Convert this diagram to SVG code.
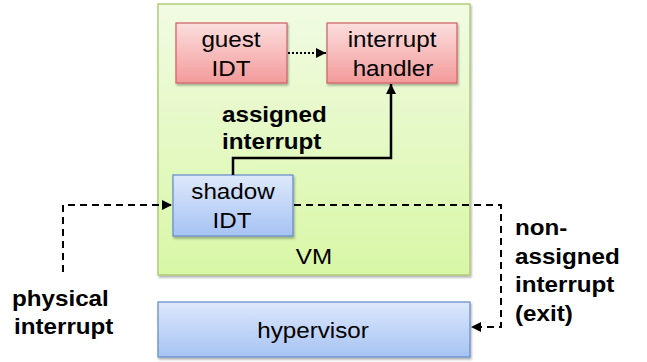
<svg xmlns="http://www.w3.org/2000/svg" width="647" height="362" viewBox="0 0 647 362">
  <style>
    .lbl { font-family: "Liberation Sans", Arial, sans-serif; font-size: 22px; fill: #000; text-anchor: middle; }
    .bold { font-family: "Liberation Sans", Arial, sans-serif; font-size: 22px; font-weight: bold; fill: #000; }
    .red { fill: url(#gRed); stroke: #d2676a; stroke-width: 1.3; }
    .blue { fill: url(#gBlue); stroke: #6a90cc; stroke-width: 1.3; }
    .vm { fill: url(#gGreen); stroke: #a8c66c; stroke-width: 1.3; }
    .solid { fill: none; stroke: #000; stroke-width: 2.5; }
    .dash { fill: none; stroke: #000; stroke-width: 2; stroke-dasharray: 7 5; }
    .dot { fill: none; stroke: #000; stroke-width: 2; stroke-dasharray: 2 2; }
  </style>
  <defs>
    <linearGradient id="gRed" x1="0" y1="0" x2="0" y2="1">
      <stop offset="0" stop-color="#fcdede"/>
      <stop offset="1" stop-color="#f39a9a"/>
    </linearGradient>
    <linearGradient id="gBlue" x1="0" y1="0" x2="0" y2="1">
      <stop offset="0" stop-color="#dde8fb"/>
      <stop offset="1" stop-color="#a6c3f3"/>
    </linearGradient>
    <linearGradient id="gGreen" x1="0" y1="0" x2="0" y2="1">
      <stop offset="0" stop-color="#f1fbe3"/>
      <stop offset="1" stop-color="#d8f7a6"/>
    </linearGradient>
    <filter id="sh" x="-10%" y="-10%" width="120%" height="130%">
      <feDropShadow dx="1" dy="2" stdDeviation="1.2" flood-color="#000" flood-opacity="0.3"/>
    </filter>
    <marker id="arr" viewBox="0 0 10 10" refX="10" refY="5" markerWidth="4" markerHeight="4" orient="auto" markerUnits="strokeWidth">
      <path d="M0,0 L10,5 L0,10 z" fill="#000"/>
    </marker>
    <marker id="arrS" viewBox="0 0 10 10" refX="10" refY="5" markerWidth="5" markerHeight="5" orient="auto" markerUnits="strokeWidth">
      <path d="M0,0 L10,5 L0,10 z" fill="#000"/>
    </marker>
  </defs>

  <!-- text is set at 22px and widened 1.1x horizontally -->
  <g id="vm">
    <rect class="vm" x="158" y="4" width="312" height="271" filter="url(#sh)"/>
    <text class="lbl" transform="translate(314,264) scale(1.1,1)">VM</text>
  </g>

  <g id="hypervisor">
    <rect class="blue" x="158" y="302" width="312" height="55" filter="url(#sh)"/>
    <text class="lbl" transform="translate(313,338) scale(1.1,1)">hypervisor</text>
  </g>

  <g id="guest-idt">
    <rect class="red" x="176" y="23" width="111" height="60" filter="url(#sh)"/>
    <text class="lbl" transform="translate(231,47) scale(1.1,1)">guest</text>
    <text class="lbl" transform="translate(231,76) scale(1.1,1)">IDT</text>
  </g>

  <g id="interrupt-handler">
    <rect class="red" x="327" y="23" width="130" height="60" filter="url(#sh)"/>
    <text class="lbl" transform="translate(392,47) scale(1.1,1)">interrupt</text>
    <text class="lbl" transform="translate(393,76) scale(1.1,1)">handler</text>
  </g>

  <g id="shadow-idt">
    <rect class="blue" x="173" y="175" width="120" height="61" filter="url(#sh)"/>
    <text class="lbl" transform="translate(233,199) scale(1.1,1)">shadow</text>
    <text class="lbl" transform="translate(232,228) scale(1.1,1)">IDT</text>
  </g>

  <g id="connectors">
    <path class="dot" d="M288,53 L326,53" marker-end="url(#arrS)"/>
    <path class="solid" d="M233,175 L233,158 L391,158 L391,84" marker-end="url(#arr)"/>
    <path class="dash" d="M63,272 L63,205 L172,205" marker-end="url(#arrS)"/>
    <path class="dash" d="M294,205 L501,205 L501,327 L471,327" marker-end="url(#arrS)"/>
  </g>

  <g id="labels">
    <text class="bold" transform="translate(222,122) scale(1.1,1)">assigned</text>
    <text class="bold" transform="translate(222,149) scale(1.1,1)">interrupt</text>
    <text class="bold" transform="translate(12,306) scale(1.1,1)">physical</text>
    <text class="bold" transform="translate(14,334) scale(1.1,1)">interrupt</text>
    <text class="bold" transform="translate(515,235) scale(1.1,1)">non-</text>
    <text class="bold" transform="translate(515,264) scale(1.1,1)">assigned</text>
    <text class="bold" transform="translate(515,292) scale(1.1,1)">interrupt</text>
    <text class="bold" transform="translate(515,321) scale(1.1,1)">(exit)</text>
  </g>
</svg>
